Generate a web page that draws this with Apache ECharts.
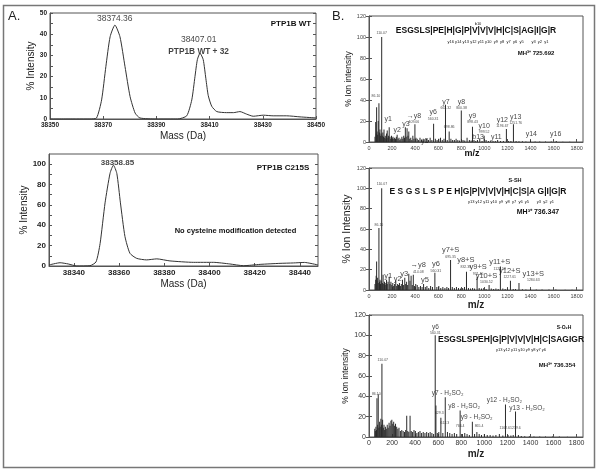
<!DOCTYPE html>
<html><head><meta charset="utf-8">
<script src="https://cdn.jsdelivr.net/npm/echarts@6/dist/echarts.min.js"></script>
<style>html,body{margin:0;padding:0;background:#fff}#c{width:600px;height:476px}</style>
</head><body><div id="c"></div>
<script>
// ---------- Panel A: intact mass spectra ----------
const massWT = [38350, 38360, 38365, 38367.5, 38369.4, 38371, 38372.6, 38374.4, 38376.3, 38378.2, 38380.1, 38382, 38383.8, 38390, 38398, 38401.4, 38403.3, 38404.5, 38405.4, 38406.4, 38407.6, 38408.6, 38409.5, 38410.8, 38412.7, 38416.4, 38419, 38421.4, 38423.9, 38426.4, 38430.2, 38433.9, 38439, 38444, 38450];
const intensityWT = [0, 0, 0, 0.5, 9, 24.7, 38.8, 44.3, 38.8, 24.7, 10.6, 2.8, 0.5, 0, 0, 1.5, 9, 20, 28, 31, 28, 19, 11, 6, 3.5, 3, 3, 3.5, 2.3, 1.3, 1.8, 1.5, 1.5, 1, 0.5];
const massC215S = [38329, 38333.9, 38337.5, 38341.3, 38347.1, 38349.8, 38351.6, 38353.8, 38356, 38357.5, 38359, 38360.6, 38362.6, 38364.8, 38367.8, 38372.2, 38376.7, 38382.5, 38392.9, 38401.7, 38409, 38415, 38422.4, 38431.2, 38437.1, 38442, 38448];
const intensityC215S = [1, 3.2, 2, 0, 0.3, 4, 22, 62, 91, 99, 91, 62, 29, 12.5, 7.5, 6, 7, 5, 3.6, 3.6, 2, 0.3, 1.6, 2.6, 3, 3.5, 1];
const peakWTMass = [38374.36, 38407.01];
const peakWTInt = [44.3, 31];
const peakC215SMass = [38357.5];
const peakC215SInt = [99];
const xLabelsA1 = [38350, 38370, 38390, 38410, 38430, 38450];
const xLabelsA2 = [38340, 38360, 38380, 38400, 38420, 38440];
const yLabelsA2 = [0, 20, 40, 60, 80, 100];
const mzLabels = [0, 200, 400, 600, 800, 1000, 1200, 1400, 1600, 1800];

// ---------- Panel B1: WT MS/MS ----------
const wtMz = [52,58,63,66,70,75,80,86,90,95,101,105,110,115,120,126,130,136,141,147,152,158,164,170,175,182,188,195,201,208,215,222,230,237,244,252,260,268,276,285,293,301,308,315,322,330,338,345,353,362,371,380,389,398,407,418,430,442,455,470,485,500,515,530,545,560,575,590,605,620,635,650,663,678,695,710,725,740,755,770,785,800,815,830,850,870,885,897,910,925,940,960,980,998,1015,1035,1055,1075,1095,1115,1140,1165,1191,1210,1230,1252,1275,1300,1330,1360,1400,1440,1480,1530,1580,1623,1680,1740];
const wtInt = [5,19,8,33,10,7,20,37,9,12,6,8,100,6,9,5,12,4,6,3,8,11,4,6,14,5,3,6,4,5,3,4,3,5,7,3,4,2,3,5,3,6,4,14,5,13,6,10,3,4,2,6,3,17,4,3,2,4,2,3,2,3,2,4,2,17.5,3,2,3,4,2,3,35.5,2,10,3,2,2,3,2,1.5,30,2,1.5,4,2,1.5,14.5,2,1,2,3,1,6,2,1,1.5,1,1,2,1,1,12.5,1,1,17,1,0.8,0.6,0.5,1.5,0.5,0.4,0.4,0.4,1,0.3,0.3];
const wtLabMz = [110, 60, 167, 245, 320, 389, 484, 556, 666, 695, 802, 897, 998, 946, 1104, 1156, 1272, 1407, 1618];
const wtLabInt = [104, 43.5, 22, 11, 17, 23, 1, 26, 36, 14, 36, 23, 13, 4.8, 4.8, 19, 22, 8, 8];
const wtLabName = ['', '', 'y1', 'y2', 'y3', '\u2192y8', 'y5', 'y6', 'y7', '', 'y8', 'y9', 'y10', 'b13', 'y11', 'y12', 'y13', 'y14', 'y16'];
const wtLabNum = ['110.07', '86.10', '', '', '', '409.06', '', '560.31', '663.32', '698.86', '800.38', '898.43', '999.52', '', '', '1196.67', '1251.76', '', ''];

// ---------- Panel B2: S-SH MS/MS ----------
const ssMz = [52,58,62,66,70,75,80,86,91,95,100,105,110,116,122,128,134,140,146,152,158,165,175,182,190,198,206,214,222,232,240,248,256,264,272,280,290,300,310,318,326,335,345,355,365,375,384,395,405,418,432,446,460,473,488,502,518,534,550,571,588,605,622,640,658,675,690,707,722,740,758,776,794,812,828,845,862,880,898,915,937,955,975,995,1015,1041,1060,1080,1100,1120,1139,1160,1180,1200,1226,1250,1270,1300,1330,1360,1400,1450,1500,1560,1620,1700,1760];
const ssInt = [6,10,14,28,9,12,7,61,8,10,6,9,100,7,15,6,8,5,7,10,6,8,13,6,8,5,7,4,6,9,4,6,5,7,4,6,10,5,12,6,8,5,16,9,14,5,15,4,6,5,3,4,3,6,3,4,2,4,3,17,3,4,2,3,2,3,2,29.5,3,2,3,2,1.5,2,3,18,2,1.5,2,1.5,12.5,2,1.5,2,1,5,1.5,1,1.5,1,23,1.5,1,1.5,9,1,1,7,0.8,0.6,1,0.5,0.6,0.4,0.5,0.3,0.3];
const ssLabMz = [112, 86, 167, 248, 306, 427, 484, 580, 707, 839, 946, 1018, 1133, 1220, 1424];
const ssLabInt = [104, 64, 14, 11, 16, 22, 10, 23, 37, 27, 20, 12, 25, 17, 14];
const ssLabName = ['', '', 'y1', 'y2', 'y3', '\u2192y8', 'y5', 'y6', 'y7+S', 'y8+S', 'y9+S', 'y10+S', 'y11+S', 'y12+S', 'y13+S'];
const ssLabNum = ['110.07', '86.10', '', '', '', '414.08', '', '560.31', '695.35', '832.38', '931.45', '1030.52', '1129.59', '1227.61', '1284.63'];

// ---------- Panel B3: S-O2H MS/MS ----------
const soMz = [50,55,60,65,69,75,80,86,92,97,103,108,112,118,124,130,136,142,150,158,166,174,182,190,198,206,214,222,230,240,250,260,272,284,296,308,318,327,336,345,356,366,378,390,402,415,428,442,456,470,485,500,515,530,545,560,574,580,592,605,623,640,661,680,700,720,740,760,790,810,830,850,870,896,915,935,955,975,1000,1025,1050,1075,1100,1130,1160,1183,1205,1230,1250,1270,1295,1320,1350,1390,1430,1480,1530,1590,1650,1720];
const soInt = [8,6,10,7,38,12,42,9,15,10,18,12,72,17,9,12,7,10,8,12,9,14,11,16,17,13,15,11,13,10,8,9,6,7,6,5,7,21,6,5,21,6,5,7,6,4,5,6,4,5,4,5,4,5,4,3,100,31,4,5,19,4,39,5,4,3,4,3,26,3,4,3,2,15,3,5,3,2,3,2,2,1.5,2,3,1.5,32,2,1.5,2,25,2,1,0.8,0.8,0.6,0.6,0.5,0.5,0.4,0.3];
const soLabMz = [575, 120, 63, 681, 609, 658, 825, 790, 934, 954, 1174, 1177, 1370, 1269];
const soLabInt = [106, 76, 42, 43, 24, 14, 30, 11, 19, 11, 36, 9, 28, 9];
const soLabName = ['y6', '', '', 'y7 - H\u2082SO\u2082', '', '', 'y8 - H\u2082SO\u2082', '', 'y9 - H\u2082SO\u2082', '', 'y12 - H\u2082SO\u2082', '', 'y13 - H\u2082SO\u2082', ''];
const soLabNum = ['560.31', '110.07', '86.10', '', '629.3', '612.3', '', '766.4', '', '865.4', '', '1162.6', '', '1219.6'];

const FONT = '"Liberation Sans", Arial, sans-serif';
const chart = echarts.init(document.getElementById('c'));
const plain = v => String(v);

const grids = [
  {left: 50, top: 13, width: 266, height: 106},
  {left: 49, top: 154, width: 269, height: 112},
  {left: 369, top: 16, width: 214, height: 126},
  {left: 369, top: 168, width: 214, height: 122},
  {left: 369, top: 315, width: 214, height: 122}
].map(g => Object.assign(g, {show: true, borderColor: '#555', borderWidth: 1, containLabel: false}));

function xAx(i, min, max, labels, fs, bold, name, nameFs, nameBold, nameGap, color) {
  return {
    type: 'value', gridIndex: i, min: min, max: max, position: 'bottom',
    axisLine: {show: true, onZero: false, lineStyle: {color: '#555', width: 1}},
    axisTick: {show: true, inside: true, length: 3, customValues: labels, lineStyle: {color: '#555'}},
    axisLabel: {show: true, customValues: labels, formatter: plain, fontSize: fs, fontWeight: bold ? 'bold' : 'normal', color: color || '#222', margin: 3, fontFamily: FONT, hideOverlap: false},
    splitLine: {show: false},
    name: name, nameLocation: 'middle', nameGap: nameGap,
    nameTextStyle: {fontSize: nameFs, fontWeight: nameBold ? 'bold' : 'normal', color: '#222', fontFamily: FONT}
  };
}
function yAx(i, max, labels, ticks, fs, bold, name, nameFs, nameGap, color) {
  return {
    type: 'value', gridIndex: i, min: 0, max: max, position: 'left',
    axisLine: {show: true, onZero: false, lineStyle: {color: '#555', width: 1}},
    axisTick: {show: true, inside: true, length: 3, customValues: ticks, lineStyle: {color: '#555'}},
    axisLabel: {show: true, customValues: labels, formatter: plain, fontSize: fs, fontWeight: bold ? 'bold' : 'normal', color: color || '#222', margin: 3, fontFamily: FONT},
    splitLine: {show: false},
    name: name, nameLocation: 'middle', nameGap: nameGap,
    nameTextStyle: {fontSize: nameFs, color: '#222', fontFamily: FONT}
  };
}
function yRight(i, max, ticks) {
  return {
    type: 'value', gridIndex: i, min: 0, max: max, position: 'right',
    axisLine: {show: false}, axisLabel: {show: false}, splitLine: {show: false},
    axisTick: {show: true, inside: true, length: 3, customValues: ticks, lineStyle: {color: '#555'}}
  };
}
const yTicksA1 = [0, 5, 10, 15, 20, 25, 30, 35, 40, 45, 50];
const yLabelsA1 = [0, 10, 20, 30, 40, 50];
const yTicksA2 = [0, 10, 20, 30, 40, 50, 60, 70, 80, 90, 100];
const yLabelsB = [0, 20, 40, 60, 80, 100, 120];

const xAxes = [
  xAx(0, 38350, 38450, xLabelsA1, 6.5, true, 'Mass (Da)', 10, false, 12),
  xAx(1, 38329, 38448, xLabelsA2, 8, true, 'Mass (Da)', 10, false, 13),
  xAx(2, 0, 1855, mzLabels, 5.5, false, '', 9, true, 8, '#444'),
  xAx(3, 0, 1855, mzLabels, 5.5, false, 'm/z', 10, true, 8, '#444'),
  xAx(4, 0, 1855, mzLabels, 7, false, 'm/z', 10, true, 12, '#333')
];
const yAxes = [
  yAx(0, 50, yLabelsA1, yTicksA1, 6.5, true, '% Intensity', 10, 8),
  yAx(1, 110, yLabelsA2, yTicksA2, 8, true, '% Intensity', 10, 16),
  yAx(2, 120, yLabelsB, yLabelsB, 5.5, false, '% Ion intensity', 8.5, 12, '#444'),
  yAx(3, 120, yLabelsB, yLabelsB, 5.5, false, '% Ion Intensity', 10.5, 12, '#444'),
  yAx(4, 120, yLabelsB, yLabelsB, 7, false, '% Ion intensity', 8.5, 15, '#333'),
  yRight(0, 50, yTicksA1), yRight(1, 110, yTicksA2),
  yRight(2, 120, yLabelsB), yRight(3, 120, yLabelsB), yRight(4, 120, yLabelsB)
];

function zip(a, b) { return a.map((v, i) => [v, b[i]]); }
function lineSeries(idx, xs, ys) {
  return {type: 'line', xAxisIndex: idx, yAxisIndex: idx, data: zip(xs, ys), smooth: 0.2,
    symbol: 'none', lineStyle: {color: '#333', width: 1}, silent: true, animation: false};
}
function stickSeries(idx, xs, ys) {
  return {type: 'bar', xAxisIndex: idx, yAxisIndex: idx, data: zip(xs, ys), barWidth: 1,
    itemStyle: {color: '#2a2a2a'}, silent: true, animation: false};
}
function labelSeries(idx, xs, ys, names, nums, nameSize, numSize) {
  return {type: 'scatter', xAxisIndex: idx, yAxisIndex: idx, symbolSize: 0, silent: true, animation: false,
    data: xs.map((x, i) => {
      let t = names[i] ? '{n|' + names[i] + '}' : '';
      if (nums[i]) t += (t ? '\n' : '') + '{m|' + nums[i] + '}';
      return {value: [x, ys[i]], label: {formatter: t}};
    }),
    label: {show: true, position: 'inside', color: '#111', fontFamily: FONT,
      rich: {n: {fontSize: nameSize, fontFamily: FONT, color: '#111', lineHeight: nameSize + 1},
             m: {fontSize: numSize, fontFamily: FONT, color: '#222', lineHeight: numSize + 1}}}
  };
}

const series = [
  lineSeries(0, massWT, intensityWT),
  lineSeries(1, massC215S, intensityC215S),
  {type: 'scatter', xAxisIndex: 0, yAxisIndex: 0, symbolSize: 0, silent: true, animation: false,
   data: [
     {value: [peakWTMass[0], peakWTInt[0]], label: {formatter: '38374.36', offset: [0, 1]}},
     {value: [peakWTMass[1], peakWTInt[1]], label: {formatter: '38407.01\n{b|PTP1B WT + 32}', offset: [-3, 5]}}
   ],
   label: {show: true, position: 'top', distance: 1, fontSize: 8.5, color: '#111', fontFamily: FONT, lineHeight: 12,
     rich: {b: {fontSize: 8.3, fontWeight: 'bold', fontFamily: FONT, color: '#111', lineHeight: 12}}}},
  {type: 'scatter', xAxisIndex: 1, yAxisIndex: 1, symbolSize: 0, silent: true, animation: false,
   data: [{value: [peakC215SMass[0], peakC215SInt[0]], label: {formatter: '38358.85'}}],
   label: {show: true, position: 'top', distance: 0, offset: [4, 2], fontSize: 8, fontWeight: 'bold', color: '#111', fontFamily: FONT}},
  stickSeries(2, wtMz, wtInt),
  stickSeries(3, ssMz, ssInt),
  stickSeries(4, soMz, soInt),
  labelSeries(2, wtLabMz, wtLabInt, wtLabName, wtLabNum, 7, 3.5),
  labelSeries(3, ssLabMz, ssLabInt, ssLabName, ssLabNum, 7.5, 3.5),
  labelSeries(4, soLabMz, soLabInt, soLabName, soLabNum, 6.5, 3.5)
];

function txt(x, y, text, size, weight, align, color) {
  return {type: 'text', x: x, y: y, silent: true,
    style: {text: text, fontSize: size, fontWeight: weight || 'normal', fontFamily: FONT,
      fill: color || '#111', align: align || 'center', verticalAlign: 'middle'}};
}
const graphic = [
  {type: 'rect', silent: true, shape: {x: 3.5, y: 5.5, width: 591, height: 462}, style: {fill: null, stroke: '#777', lineWidth: 1.5}},
  txt(8, 16, 'A.', 13, 'normal', 'left', '#222'),
  txt(332, 16, 'B.', 13, 'normal', 'left', '#222'),
  txt(291, 24, 'PTP1B WT', 8, 'bold'),
  txt(283, 168, 'PTP1B C215S', 8, 'bold'),
  txt(235.5, 231, 'No cysteine modification detected', 7.5, 'bold'),
  // B1 annotations
  txt(476, 31, 'ESGSLS|PE|H|G|P|V|V|V|H|C|S|AG|I|G|R', 8.5, 'bold'),
  txt(478, 24, 'b10', 4),
  txt(498, 42, 'y16 y14 y13 y12 y11 y10  y9  y8  y7  y6  y5       y3  y2  y1', 4),
  txt(536, 53, 'MH\u00b3\u207a 725.692', 6, 'bold'),
  txt(472, 154, 'm/z', 9, 'bold'),
  // B2 annotations
  txt(478, 192, 'E S G S L S P E H|G|P|V|V|V|H|C|S|A G|I|G|R', 8.5, 'bold'),
  txt(515, 180, 'S-SH', 5.5, 'bold'),
  txt(511, 202, 'y13 y12 y11 y10  y9  y8  y7  y6  y5       y3  y2  y1', 4),
  txt(538, 212, 'MH\u00b3\u207a 736.347', 7, 'bold'),
  // B3 annotations
  txt(511, 340, 'ESGSLSPEH|G|P|V|V|V|H|C|SAGIGR', 8.5, 'bold'),
  txt(564, 328, 'S-O\u2082H', 5, 'bold'),
  txt(521, 350, 'y13 y12 y11 y10 y9 y8 y7 y6', 4),
  txt(557, 365, 'MH\u00b3\u207a 736.354', 6, 'bold')
];

chart.setOption({
  animation: false,
  backgroundColor: '#fff',
  grid: grids,
  xAxis: xAxes,
  yAxis: yAxes,
  series: series,
  graphic: graphic
});
</script></body></html>
